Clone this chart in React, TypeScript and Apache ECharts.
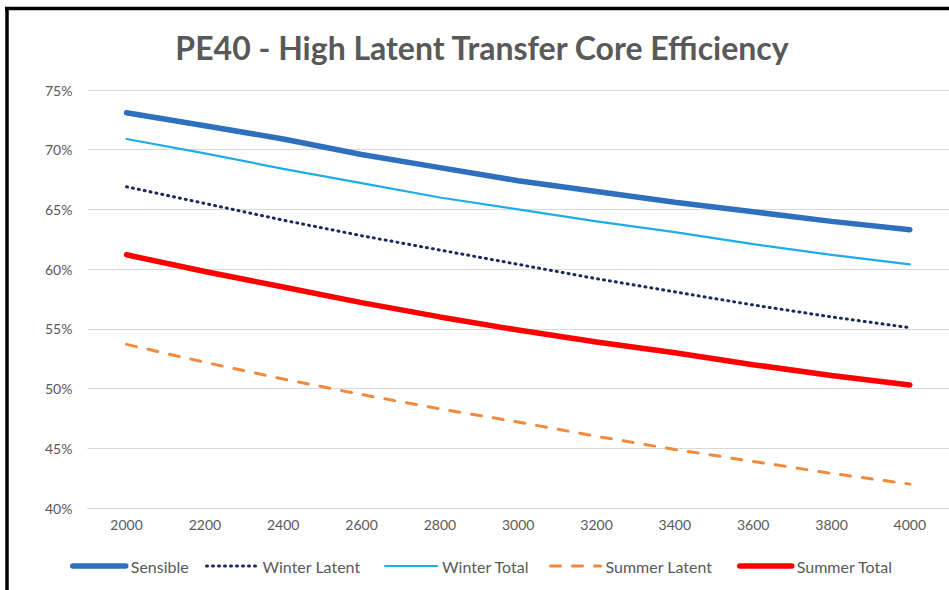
import React, { useEffect, useRef } from "react";
import * as echarts from "echarts";

const categories = ["2000", "2200", "2400", "2600", "2800", "3000", "3200", "3400", "3600", "3800", "4000"];
const sensible = [73.1, 72.0, 70.9, 69.6, 68.5, 67.4, 66.5, 65.6, 64.8, 64.0, 63.3];
const winterLatent = [66.9, 65.5, 64.1, 62.8, 61.6, 60.4, 59.2, 58.1, 57.0, 56.0, 55.1];
const winterTotal = [70.9, 69.7, 68.4, 67.2, 66.0, 65.0, 64.0, 63.1, 62.1, 61.2, 60.4];
const summerLatent = [53.7, 52.2, 50.8, 49.5, 48.3, 47.2, 46.0, 44.9, 43.9, 42.9, 42.0];
const summerTotal = [61.2, 59.8, 58.5, 57.2, 56.0, 54.9, 53.9, 53.0, 52.0, 51.1, 50.3];
const seriesNames = ["Sensible", "Winter Latent", "Winter Total", "Summer Latent", "Summer Total"];
const yTicks = { min: 40, max: 75, interval: 5 };
const titleText = "PE40 - High Latent Transfer Core Efficiency";

const FONT = "Lato";
const GRAY = "#595959";

export default function App() {
  const ref = useRef<HTMLDivElement>(null);
  useEffect(() => {
    if (!ref.current) return;
    const chart = echarts.init(ref.current, null, { renderer: "svg" });
    const styles = [
      { color: "#2E6FBE", width: 5.5, type: "solid" as any },
      { color: "#1B2A5C", width: 3, type: [1, 5] as any },
      { color: "#1EADE6", width: 2.2, type: "solid" as any },
      { color: "#F08A3C", width: 3, type: [10, 12] as any },
      { color: "#FF0000", width: 5.5, type: "solid" as any },
    ];
    const dataSets = [sensible, winterLatent, winterTotal, summerLatent, summerTotal];
    const legendPos = [
      { left: 70, w: 53 },
      { left: 205, w: 51 },
      { left: 384, w: 52 },
      { left: 549, w: 50 },
      { left: 737, w: 52 },
    ];
    const legends = seriesNames.map((n, i) => ({
      data: [n],
      left: legendPos[i].left,
      top: 558,
      padding: 0,
      itemWidth: legendPos[i].w,
      itemHeight: 14,
      itemStyle: { color: "transparent", borderColor: "transparent", borderWidth: 0, opacity: 0 },
      lineStyle: { width: styles[i].width, color: styles[i].color, type: styles[i].type, cap: "round" },
      textStyle: { color: GRAY, fontSize: 16, fontFamily: FONT },
    }));
    chart.setOption({
      animation: false,
      backgroundColor: "#ffffff",
      textStyle: { fontFamily: FONT },
      grid: { left: 87.4, right: -9.6, top: 90, bottom: 82, containLabel: false },
      xAxis: {
        type: "category",
        data: categories,
        boundaryGap: true,
        axisLine: { show: true, lineStyle: { color: "#d9d9d9", width: 1 } },
        axisTick: { show: false },
        axisLabel: { color: GRAY, fontSize: 14, fontFamily: FONT, margin: 9 },
      },
      yAxis: {
        type: "value",
        min: yTicks.min,
        max: yTicks.max,
        interval: yTicks.interval,
        axisLine: { show: false },
        axisTick: { show: false },
        splitLine: { lineStyle: { color: "#d9d9d9", width: 1 } },
        axisLabel: { color: GRAY, fontSize: 14, fontFamily: FONT, margin: 15, formatter: "{value}%" },
      },
      legend: legends,
      graphic: [
        {
          type: "text",
          x: 482,
          y: 47,
          style: {
            text: titleText,
            fill: GRAY,
            font: `bold 32px ${FONT}`,
            textAlign: "center",
            textVerticalAlign: "middle",
          },
        },
        { type: "line", shape: { x1: 5, y1: 8.5, x2: 949, y2: 8.5 }, style: { stroke: "#000", lineWidth: 3.5 } },
        { type: "line", shape: { x1: 7, y1: 7, x2: 7, y2: 590 }, style: { stroke: "#000", lineWidth: 3.5 } },
      ],
      series: seriesNames.map((name, i) => ({
        name,
        type: "line",
        data: dataSets[i],
        symbol: "none",
        showSymbol: false,
        lineStyle: { color: styles[i].color, width: styles[i].width, type: styles[i].type, cap: "round" },
        itemStyle: { color: styles[i].color },
      })),
    });
    return () => chart.dispose();
  }, []);
  return (
    <div
      ref={ref}
      style={{ position: "fixed", left: 0, top: 0, width: 949, height: 590, background: "#fff" }}
    />
  );
}
